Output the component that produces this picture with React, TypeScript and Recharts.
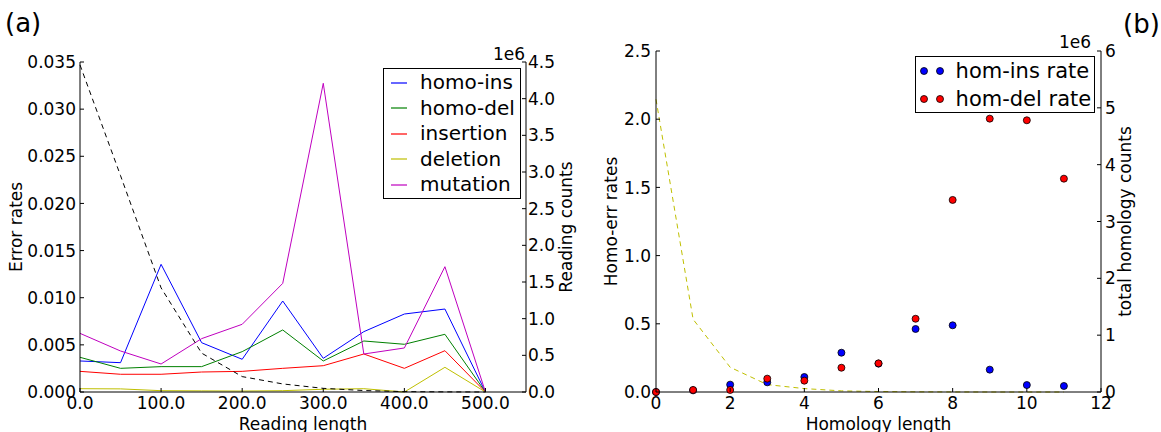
import { ComposedChart, Line, Scatter, XAxis, YAxis, Legend } from "recharts";

const FONT = "'DejaVu Sans', sans-serif";
const TICK_LEN = 4;

// (a) error rates by reading length
const readingLength = [0, 50, 100, 150, 200, 250, 300, 350, 400, 450, 500];
const homoIns = [0.00329, 0.00311, 0.01354, 0.00523, 0.00347, 0.00965, 0.00357, 0.0064, 0.00827, 0.0088, 0];
const homoDel = [0.00368, 0.00251, 0.00269, 0.00269, 0.00428, 0.00658, 0.00329, 0.00541, 0.00506, 0.00612, 0];
const insertion = [0.00219, 0.00188, 0.00188, 0.00212, 0.00219, 0.00251, 0.00279, 0.00403, 0.00251, 0.00438, 0];
const deletion = [0.00035, 0.00033, 0.00014, 0.00012, 0.0001, 0.00014, 0.00029, 0.00035, 0, 0.00262, 0];
const mutation = [0.00622, 0.00435, 0.00297, 0.00566, 0.00718, 0.01152, 0.03274, 0.00403, 0.00467, 0.01329, 0];
const readingCounts = [4460000, 2950000, 1420000, 530000, 210000, 110000, 50000, 20000, 5000, 2000, 0];

const lengthTicks = [0, 100, 200, 300, 400, 500];
const errorRateTicks = [0, 0.005, 0.01, 0.015, 0.02, 0.025, 0.03, 0.035];
const readingCountTicks = [0, 500000, 1000000, 1500000, 2000000, 2500000, 3000000, 3500000, 4000000, 4500000];

// (b) homopolymer error rates by homology length
const homologyLength = [0, 1, 2, 3, 4, 5, 6, 7, 8, 9, 10, 11];
const homInsRate = [0, 0.012, 0.054, 0.071, 0.11, 0.288, 0.208, 0.462, 0.489, 0.164, 0.051, 0.044];
const homDelRate = [0, 0.015, 0.015, 0.098, 0.083, 0.178, 0.21, 0.537, 1.408, 2.004, 1.992, 1.564];
const homologyCounts = [5150000, 1280000, 435000, 130000, 60000, 20000, 8000, 3000, 1000, 0, 0, 0];

const homologyTicks = [0, 2, 4, 6, 8, 10, 12];
const homoErrTicks = [0, 0.5, 1, 1.5, 2, 2.5];
const homologyCountTicks = [0, 1000000, 2000000, 3000000, 4000000, 5000000, 6000000];

const leftSeries = [
  { key: "homoIns", name: "homo-ins", color: "#0000ff" },
  { key: "homoDel", name: "homo-del", color: "#008000" },
  { key: "insertion", name: "insertion", color: "#ff0000" },
  { key: "deletion", name: "deletion", color: "#bfbf00" },
  { key: "mutation", name: "mutation", color: "#bf00bf" },
];

const rightSeries = [
  { key: "ins", name: "hom-ins rate", color: "#0000ff" },
  { key: "del", name: "hom-del rate", color: "#ff0000" },
];

const leftData = readingLength.map((len, i) => ({
  len,
  homoIns: homoIns[i],
  homoDel: homoDel[i],
  insertion: insertion[i],
  deletion: deletion[i],
  mutation: mutation[i],
  counts: readingCounts[i],
}));

const rightData = homologyLength.map((len, i) => ({
  len,
  ins: homInsRate[i],
  del: homDelRate[i],
  total: homologyCounts[i],
}));

const txt = { fontFamily: FONT, fontSize: 17, fill: "#000" };

type Side = "bottom" | "top" | "left" | "right";

// matplotlib-style ticks: pointing into the plot, labels outside
const makeTick = (side: Side, fmt?: (v: number) => string, gap = 0) => (props: any) => {
  const { x, y, payload } = props;
  let x2 = x;
  let y2 = y;
  if (side === "bottom") y2 = y - TICK_LEN;
  if (side === "top") y2 = y + TICK_LEN;
  if (side === "left") x2 = x + TICK_LEN;
  if (side === "right") x2 = x - TICK_LEN;
  let label = null;
  if (fmt) {
    const s = fmt(payload.value);
    if (side === "bottom") {
      label = <text x={x} y={y + 17} textAnchor="middle" {...txt}>{s}</text>;
    } else if (side === "left") {
      label = <text x={x - gap} y={y} dy="0.36em" textAnchor="end" {...txt}>{s}</text>;
    } else if (side === "right") {
      label = <text x={x + gap} y={y} dy="0.36em" textAnchor="start" {...txt}>{s}</text>;
    }
  }
  return (
    <g>
      <line x1={x} y1={y} x2={x2} y2={y2} stroke="#000" strokeWidth={1} />
      {label}
    </g>
  );
};

const vLabel = (text: string, dx: number) => (props: any) => {
  const vb = props.viewBox;
  const bx = vb.x + dx;
  const cy = vb.y + vb.height / 2;
  return (
    <text x={bx} y={cy} textAnchor="middle" transform={`rotate(-90, ${bx}, ${cy})`} {...txt}>
      {text}
    </text>
  );
};

const rightLabel = (text: string, dx: number, offsetX: number, offsetY: number) => (props: any) => {
  const vb = props.viewBox;
  const bx = vb.x + dx;
  const cy = vb.y + vb.height / 2;
  return (
    <g>
      <text x={vb.x + offsetX} y={vb.y + offsetY} textAnchor="end" {...txt}>1e6</text>
      <text x={bx} y={cy} textAnchor="middle" transform={`rotate(-90, ${bx}, ${cy})`} {...txt}>
        {text}
      </text>
    </g>
  );
};

const xLabel = (text: string) => (props: any) => {
  const vb = props.viewBox;
  return (
    <text x={vb.x + vb.width / 2} y={vb.y + 38} textAnchor="middle" {...txt}>
      {text}
    </text>
  );
};

const pick = (payload: any[], series: { name: string; color: string }[]) =>
  series
    .map((s) => {
      const entry = (payload || []).find((p: any) => p.value === s.name && p.type !== "none");
      return entry ? { value: s.name, color: s.color } : null;
    })
    .filter(Boolean) as { value: string; color: string }[];

const LeftLegend = ({ payload }: any) => {
  const items = pick(payload, leftSeries);
  return (
    <div
      style={{
        width: 138,
        height: 131,
        boxSizing: "border-box",
        border: "1px solid #000",
        background: "#fff",
        fontFamily: FONT,
        fontSize: 20,
        paddingTop: 1,
      }}
    >
      {items.map((it) => (
        <div key={it.value} style={{ display: "flex", alignItems: "center", height: 25.5 }}>
          <svg width={16} height={6} style={{ marginLeft: 7 }}>
            <line x1={0} y1={3} x2={16} y2={3} stroke={it.color} strokeWidth={1.2} />
          </svg>
          <span style={{ marginLeft: 13, lineHeight: "25.5px", whiteSpace: "nowrap" }}>{it.value}</span>
        </div>
      ))}
    </div>
  );
};

const RightLegend = ({ payload }: any) => {
  const items = pick(payload, rightSeries);
  return (
    <div
      style={{
        width: 180,
        height: 57,
        boxSizing: "border-box",
        border: "1px solid #000",
        background: "#fff",
        fontFamily: FONT,
        fontSize: 21,
      }}
    >
      {items.map((it) => (
        <div key={it.value} style={{ display: "flex", alignItems: "center", height: 28 }}>
          <svg width={32} height={10} style={{ marginLeft: 3 }}>
            <circle cx={5} cy={5} r={3.5} fill={it.color} stroke="#000" strokeWidth={0.8} />
            <circle cx={21} cy={5} r={3.5} fill={it.color} stroke="#000" strokeWidth={0.8} />
          </svg>
          <span style={{ marginLeft: 5, lineHeight: "28px", whiteSpace: "nowrap" }}>{it.value}</span>
        </div>
      ))}
    </div>
  );
};

const dot = (color: string) => (p: any) => (
  <circle cx={p.cx} cy={p.cy} r={3.5} fill={color} stroke="#000" strokeWidth={0.8} />
);

const ReadingChart = () => (
  <ComposedChart width={580} height={432} data={leftData} margin={{ top: 62, right: 0, bottom: 0, left: 0 }}>
    <XAxis
      xAxisId="b"
      dataKey="len"
      type="number"
      domain={[0, 550]}
      ticks={lengthTicks}
      interval={0}
      height={40}
      tickSize={0}
      tickMargin={0}
      tickLine={false}
      axisLine={{ stroke: "#000" }}
      tick={makeTick("bottom", (v) => v.toFixed(1))}
      label={xLabel("Reading length")}
    />
    <XAxis
      xAxisId="t"
      orientation="top"
      dataKey="len"
      type="number"
      domain={[0, 550]}
      ticks={lengthTicks}
      interval={0}
      height={0}
      tickSize={0}
      tickMargin={0}
      tickLine={false}
      axisLine={{ stroke: "#000" }}
      tick={makeTick("top")}
    />
    <YAxis
      yAxisId="l"
      type="number"
      domain={[0, 0.035]}
      ticks={errorRateTicks}
      interval={0}
      width={80}
      tickSize={0}
      tickMargin={0}
      tickLine={false}
      axisLine={{ stroke: "#000" }}
      tick={makeTick("left", (v) => v.toFixed(3), 4)}
      label={vLabel("Error rates", 21.5)}
    />
    <YAxis
      yAxisId="r"
      orientation="right"
      type="number"
      domain={[0, 4500000]}
      ticks={readingCountTicks}
      interval={0}
      width={54}
      tickSize={0}
      tickMargin={0}
      tickLine={false}
      axisLine={{ stroke: "#000" }}
      tick={makeTick("right", (v) => (v / 1e6).toFixed(1), 2)}
      label={rightLabel("Reading counts", 46, -1, -2)}
    />
    {leftSeries.map((s) => (
      <Line
        key={s.key}
        xAxisId="b"
        yAxisId="l"
        dataKey={s.key}
        name={s.name}
        stroke={s.color}
        strokeWidth={1}
        dot={false}
        activeDot={false}
        isAnimationActive={false}
      />
    ))}
    <Line
      xAxisId="b"
      yAxisId="r"
      dataKey="counts"
      name="reading counts"
      stroke="#000"
      strokeWidth={1}
      strokeDasharray="5 4"
      dot={false}
      activeDot={false}
      legendType="none"
      isAnimationActive={false}
    />
    <Legend
      layout="horizontal"
      verticalAlign="middle"
      align="center"
      content={LeftLegend}
      wrapperStyle={{ left: 383, top: 68, width: 138, height: 131 }}
    />
  </ComposedChart>
);

const HomologyChart = () => (
  <ComposedChart width={581} height={432} data={rightData} margin={{ top: 51, right: 0, bottom: 0, left: 0 }}>
    <XAxis
      xAxisId="b"
      dataKey="len"
      type="number"
      domain={[0, 12]}
      ticks={homologyTicks}
      interval={0}
      height={40}
      tickSize={0}
      tickMargin={0}
      tickLine={false}
      axisLine={{ stroke: "#000" }}
      tick={makeTick("bottom", (v) => String(v))}
      label={xLabel("Homology length")}
    />
    <XAxis
      xAxisId="t"
      orientation="top"
      dataKey="len"
      type="number"
      domain={[0, 12]}
      ticks={homologyTicks}
      interval={0}
      height={0}
      tickSize={0}
      tickMargin={0}
      tickLine={false}
      axisLine={{ stroke: "#000" }}
      tick={makeTick("top")}
    />
    <YAxis
      yAxisId="l"
      type="number"
      domain={[0, 2.5]}
      ticks={homoErrTicks}
      interval={0}
      width={76}
      tickSize={0}
      tickMargin={0}
      tickLine={false}
      axisLine={{ stroke: "#000" }}
      tick={makeTick("left", (v) => v.toFixed(1), 5)}
      label={vLabel("Homo-err rates", 37)}
    />
    <YAxis
      yAxisId="r"
      orientation="right"
      type="number"
      domain={[0, 6000000]}
      ticks={homologyCountTicks}
      interval={0}
      width={60}
      tickSize={0}
      tickMargin={0}
      tickLine={false}
      axisLine={{ stroke: "#000" }}
      tick={makeTick("right", (v) => String(Math.round(v / 1e6)), 4)}
      label={rightLabel("total homology counts", 30, -10, -3)}
    />
    {rightSeries.map((s) => (
      <Scatter
        key={s.key}
        xAxisId="b"
        yAxisId="l"
        data={rightData}
        dataKey={s.key}
        name={s.name}
        fill={s.color}
        shape={dot(s.color)}
        isAnimationActive={false}
      />
    ))}
    <Line
      xAxisId="b"
      yAxisId="r"
      dataKey="total"
      name="total homology counts"
      stroke="#bfbf00"
      strokeWidth={1}
      strokeDasharray="5 4"
      dot={false}
      activeDot={false}
      legendType="none"
      isAnimationActive={false}
    />
    <Legend
      layout="horizontal"
      verticalAlign="middle"
      align="center"
      content={RightLegend}
      wrapperStyle={{ left: 334.6, top: 56, width: 180, height: 57 }}
    />
  </ComposedChart>
);

const App = () => {
  return (
    <div style={{ position: "absolute", left: 0, top: 0, width: 1161, height: 432, background: "#fff", overflow: "hidden" }}>
      <div style={{ position: "absolute", left: 0, top: 0 }}>
        <ReadingChart />
      </div>
      <div style={{ position: "absolute", left: 580, top: 0 }}>
        <HomologyChart />
      </div>
      <svg width={1161} height={432} style={{ position: "absolute", left: 0, top: 0, pointerEvents: "none" }}>
        <text x={5} y={31.7} fontFamily={FONT} fontSize={26} fill="#000">(a)</text>
        <text x={1123} y={32.5} fontFamily={FONT} fontSize={26} fill="#000">(b)</text>
      </svg>
    </div>
  );
};

export default App;
